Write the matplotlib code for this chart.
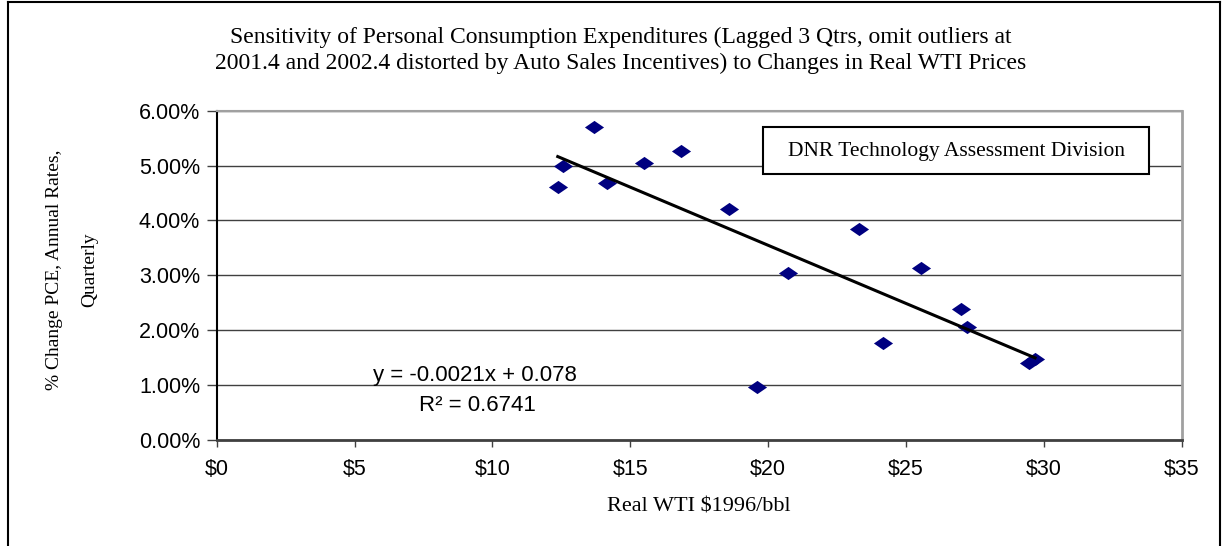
import numpy as np
import matplotlib
matplotlib.use("Agg")
import matplotlib.pyplot as plt
from matplotlib.ticker import PercentFormatter, FuncFormatter, MultipleLocator
from matplotlib.path import Path
from matplotlib.lines import Line2D
from matplotlib.patches import Rectangle

# Real WTI price ($1996/bbl) and % change in PCE (lagged 3 quarters)
wti = [12.37, 12.55, 13.67, 14.16, 15.48, 16.84, 18.57, 19.61,
       20.71, 23.30, 24.16, 25.53, 27.00, 27.20, 29.47, 29.68]
pce = [0.0461, 0.0499, 0.0570, 0.0468, 0.0505, 0.0526, 0.0421, 0.0096,
       0.0305, 0.0384, 0.0177, 0.0313, 0.0239, 0.0206, 0.0140, 0.0148]

title_lines = ["Sensitivity of Personal Consumption Expenditures (Lagged 3 Qtrs, omit outliers at",
               "2001.4 and 2002.4 distorted by Auto Sales Incentives) to Changes in Real WTI Prices"]
eq_text = "y = -0.0021x + 0.078"
r2_text = "R\u00b2 = 0.6741"
box_text = "DNR Technology Assessment Division"

W, H = 1223, 546
fig = plt.figure(figsize=(W / 100, H / 100), dpi=100)

def fx(px):
    return px / W

def fy(py):
    return 1 - py / H

left, right, top, bottom = 216.7, 1181.7, 110.7, 440
ax = fig.add_axes([fx(left), fy(bottom), fx(right) - fx(left), fy(top) - fy(bottom)])

# wide diamond like the excel marker
diamond = Path([(-1.45, 0), (0, 1), (1.45, 0), (0, -1), (-1.45, 0)],
               [Path.MOVETO, Path.LINETO, Path.LINETO, Path.LINETO, Path.CLOSEPOLY])
ax.scatter(wti, pce, marker=diamond, s=190, color="#000080", zorder=4, linewidths=0)

# linear trendline
k, b = np.polyfit(wti, pce, 1)
xs = np.array([min(wti), max(wti)])
ax.plot(xs, k * xs + b, color="black", lw=2.2, zorder=5)

ax.set_xlim(0, 35)
ax.set_ylim(0, 0.06)
ax.xaxis.set_major_locator(MultipleLocator(5))
ax.yaxis.set_major_locator(MultipleLocator(0.01))
ax.xaxis.set_major_formatter(FuncFormatter(lambda v, p: "${:.0f}".format(v)))
ax.yaxis.set_major_formatter(PercentFormatter(xmax=1, decimals=2))
ax.grid(axis="y", color="#404040", lw=1.0)
ax.set_axisbelow(True)

for lab in ax.get_xticklabels() + ax.get_yticklabels():
    lab.set_fontfamily("Liberation Sans")
    lab.set_fontsize(15.5)
ax.tick_params(axis="y", direction="out", length=7, width=1, pad=5, color="#404040")
ax.tick_params(axis="x", direction="out", length=5, width=1, pad=9, color="#404040")

ax.spines["left"].set_color("black")
ax.spines["left"].set_linewidth(1.5)
ax.spines["bottom"].set_color("#404040")
ax.spines["bottom"].set_linewidth(2)
ax.spines["top"].set_color("#a0a0a0")
ax.spines["right"].set_color("#a0a0a0")
ax.spines["top"].set_linewidth(1.5)
ax.spines["right"].set_linewidth(2)

# trendline equation
ax.text(0.268, 0.197, eq_text, transform=ax.transAxes, ha="center", va="center",
        family="Liberation Sans", fontsize=16)
ax.text(0.270, 0.106, r2_text, transform=ax.transAxes, ha="center", va="center",
        family="Liberation Sans", fontsize=16)

# organisation box
ax.add_patch(Rectangle((0.566, 0.808), 0.400, 0.1425, transform=ax.transAxes,
                       facecolor="white", edgecolor="black", lw=1.5, zorder=6))
ax.text(0.767, 0.875, box_text, transform=ax.transAxes, ha="center", va="center",
        family="Liberation Serif", fontsize=15.5, zorder=7)

# title and axis labels
fig.text(fx(621), fy(37), title_lines[0], ha="center", va="center",
         family="Liberation Serif", fontsize=17)
fig.text(fx(621), fy(63), title_lines[1], ha="center", va="center",
         family="Liberation Serif", fontsize=17)
fig.text(fx(699), fy(507), "Real WTI $1996/bbl", ha="center", va="center",
         family="Liberation Serif", fontsize=16)
fig.text(fx(55), fy(270), "% Change PCE, Annual Rates,", ha="center", va="center",
         rotation=90, family="Liberation Serif", fontsize=14)
fig.text(fx(90), fy(270), "Quarterly", ha="center", va="center",
         rotation=90, family="Liberation Serif", fontsize=14)

# outer chart frame
for xy in [([8, 8], [2, 560]), ([8, 1220], [2, 2]), ([1220, 1220], [2, 560])]:
    fig.add_artist(Line2D([fx(v) for v in xy[0]], [fy(v) for v in xy[1]],
                          color="black", lw=1.5))

fig.savefig("out.png", dpi=100)
